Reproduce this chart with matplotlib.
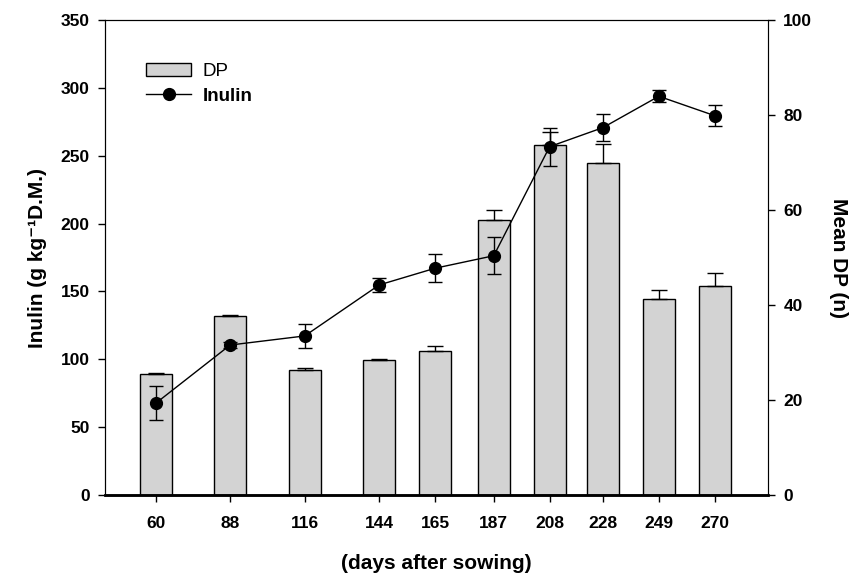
import numpy as np
import matplotlib
matplotlib.use("Agg")
import matplotlib.pyplot as plt
from matplotlib.lines import Line2D

plt.rcParams["font.family"] = ["Liberation Sans", "DejaVu Sans"]

# ── Data ──────────────────────────────────────────────────────────────────────
days = [60, 88, 116, 144, 165, 187, 208, 228, 249, 270]

inulin     = [67.5, 110.5, 117.2, 154.8, 167.1, 176.3, 256.7, 270.7, 293.8, 279.5]
inulin_err = [12.5, 2.0, 9.0, 5.0, 10.5, 13.5, 14.0, 10.0, 4.3, 7.7]

dp     = [25.4, 37.7, 26.3, 28.4, 30.4, 57.9, 73.7, 69.8, 41.2, 44.0]
dp_err = [0.3, 0.1, 0.4, 0.3, 0.9, 2.1, 2.7, 4.0, 2.0, 2.8]

# ── Figure ────────────────────────────────────────────────────────────────────
fig = plt.figure(figsize=(8.61, 5.76), dpi=100)
ax = fig.add_axes([105 / 861, 1 - 495 / 576, (768 - 105) / 861, (495 - 20) / 576])
ax2 = ax.twinx()

# bars on the right (Mean DP) axis, drawn underneath the line
bars = ax2.bar(days, dp, width=12, color="#d3d3d3", edgecolor="black", linewidth=1.0,
               yerr=[np.zeros(len(dp_err)), dp_err],
               error_kw=dict(ecolor="black", elinewidth=1.0, capsize=6, capthick=1.0))

ax.errorbar(days, inulin, yerr=inulin_err, color="black", marker="o", markersize=8.5,
            linewidth=1.0, elinewidth=1.0, capsize=5, capthick=1.0)

ax.set_zorder(ax2.get_zorder() + 1)
ax.patch.set_visible(False)

ax.set_xlim(41, 290)
ax.set_ylim(0, 350)
ax2.set_ylim(0, 100)
ax.set_xticks(days)
ax.set_yticks(np.arange(0, 351, 50))
ax2.set_yticks(np.arange(0, 101, 20))

for a in (ax, ax2):
    a.tick_params(direction="out", length=5, width=1.0, labelsize=12.5)
    for lab in a.get_xticklabels() + a.get_yticklabels():
        lab.set_fontweight("bold")
ax.tick_params(axis="x", pad=10)
ax.tick_params(axis="y", pad=6)
ax2.tick_params(axis="y", pad=6)

ax.spines["bottom"].set_linewidth(1.8)
ax2.spines["bottom"].set_linewidth(1.8)
ax2.spines["right"].set_color("#555555")

ax.set_xlabel("(days after sowing)", fontsize=15, fontweight="bold", labelpad=17)
ax.set_ylabel("Inulin (g kg\u207b\u00b9D.M.)", fontsize=15, fontweight="bold", labelpad=10)
ax2.set_ylabel("Mean DP (n)", fontsize=15, fontweight="bold", rotation=-90, labelpad=26)

inulin_handle = Line2D([], [], color="black", marker="o", markersize=8.5, linewidth=1.0)
leg = fig.legend([bars, inulin_handle], ["DP", "Inulin"], loc="upper left",
                 bbox_to_anchor=(146 / 861, 1 - 63 / 576), frameon=False,
                 borderpad=0, borderaxespad=0, handlelength=2.4, handletextpad=0.6,
                 labelspacing=0.4, fontsize=13.5)
leg.get_texts()[1].set_fontweight("bold")

fig.savefig("out.png", dpi=100)
